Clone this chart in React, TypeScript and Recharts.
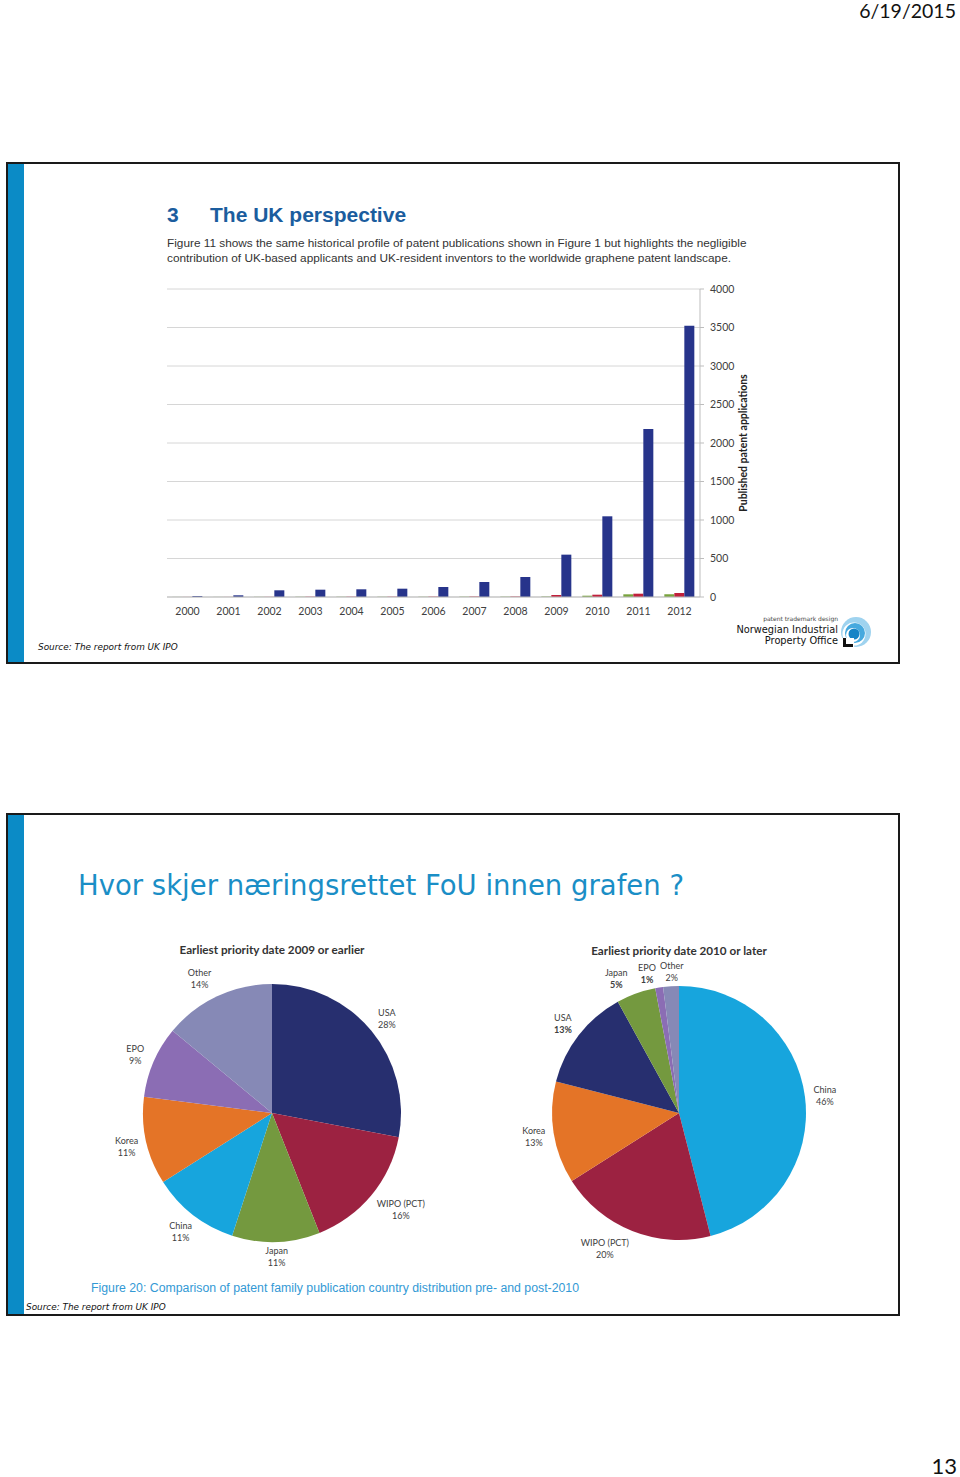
import React from 'react';
import {
  BarChart,
  Bar,
  XAxis,
  YAxis,
  CartesianGrid,
  Label,
  PieChart,
  Pie,
  Cell,
} from 'recharts';

// Figure 11: published graphene patent applications per year
const years = ['2000', '2001', '2002', '2003', '2004', '2005', '2006', '2007', '2008', '2009', '2010', '2011', '2012'];
const ukInventors = [1, 1, 2, 3, 3, 3, 3, 4, 4, 6, 17, 35, 35];
const ukApplicants = [1, 1, 2, 4, 4, 4, 5, 6, 6, 26, 30, 43, 52];
const worldwide = [12, 22, 87, 95, 100, 108, 130, 195, 260, 550, 1048, 2182, 3524];
const yTicks = [0, 500, 1000, 1500, 2000, 2500, 3000, 3500, 4000];

// Figure 20: share of patent families by publication country
const earlierNames = ['USA', 'WIPO (PCT)', 'Japan', 'China', 'Korea', 'EPO', 'Other'];
const earlierShares = [28, 16, 11, 11, 11, 9, 14];
const laterNames = ['China', 'WIPO (PCT)', 'Korea', 'USA', 'Japan', 'EPO', 'Other'];
const laterShares = [46, 20, 13, 13, 5, 1, 2];
const boldLater = ['USA', 'Japan', 'EPO'];

const countryColor: Record<string, string> = {
  USA: '#272f6f',
  'WIPO (PCT)': '#9c2241',
  Japan: '#74993f',
  China: '#17a5dd',
  Korea: '#e47427',
  EPO: '#8b6db4',
  Other: '#8689b6',
};

// small hand nudges so the slice labels sit where the slide has them
const earlierNudge: Record<string, [number, number]> = {
  'WIPO (PCT)': [14, 1],
  Japan: [0, -6],
  Other: [-9, 0],
};
const laterNudge: Record<string, [number, number]> = {
  'WIPO (PCT)': [-20, -2],
  Japan: [-13, 3],
  EPO: [-9, 5],
  Other: [2, 5],
};

const barData = years.map((year, i) => ({
  year,
  inventors: ukInventors[i],
  applicants: ukApplicants[i],
  total: worldwide[i],
}));

const earlierData = earlierNames.map((name, i) => ({ name, value: earlierShares[i] }));
const laterData = laterNames.map((name, i) => ({ name, value: laterShares[i] }));

const RADIAN = Math.PI / 180;
const calibri = 'Lato, "Open Sans", sans-serif';

function pieLabel(boldNames: string[], nudge: Record<string, [number, number]>) {
  return (props: any) => {
    const { cx, cy, midAngle, outerRadius, name, value } = props;
    const r = outerRadius + 20;
    const [nx, ny] = nudge[name] || [0, 0];
    const x = cx + r * Math.cos(-midAngle * RADIAN) + nx;
    const y = cy + r * Math.sin(-midAngle * RADIAN) + ny;
    const bold = boldNames.includes(name);
    return (
      <text x={x} y={y} textAnchor="middle" fontSize={9} fontFamily={calibri} fill="#404040">
        <tspan x={x} dy={-2}>{name}</tspan>
        <tspan x={x} dy={12} fontWeight={bold ? 700 : 400}>{value}%</tspan>
      </text>
    );
  };
}

function SlideFrame({ top, height }: { top: number; height: number }) {
  return (
    <>
      <div
        style={{
          position: 'absolute',
          left: 6,
          top,
          width: 894,
          height,
          border: '2px solid #1a1a1a',
          boxSizing: 'border-box',
          background: '#fff',
        }}
      />
      <div
        style={{
          position: 'absolute',
          left: 8,
          top: top + 2,
          width: 16,
          height: height - 4,
          background: '#0b8bc6',
        }}
      />
    </>
  );
}

function Logo() {
  return (
    <div style={{ position: 'absolute', left: 730, top: 614, width: 145, height: 34 }}>
      <div style={{ position: 'absolute', right: 37, top: 1, fontSize: 6, color: '#444', fontFamily: 'DejaVu Sans' }}>
        patent trademark design
      </div>
      <div
        style={{
          position: 'absolute',
          right: 37,
          top: 10,
          fontSize: 9.8,
          lineHeight: '11px',
          textAlign: 'right',
          color: '#111',
          fontFamily: 'DejaVu Sans',
          whiteSpace: 'nowrap',
        }}
      >
        Norwegian Industrial
        <br />
        Property Office
      </div>
      <svg style={{ position: 'absolute', left: 108, top: 2 }} width={34} height={32}>
        <circle cx={18} cy={16} r={15} fill="#9fd3ef" />
        <circle cx={16} cy={18} r={11.5} fill="#fff" />
        <circle cx={17} cy={17} r={10} fill="#46a9de" />
        <circle cx={15} cy={19} r={7} fill="#fff" />
        <circle cx={16} cy={18} r={5.5} fill="#1584c6" />
        <rect x={4} y={22} width={12} height={10} fill="#fff" />
        <path d="M5 22 L5 31 L15 31 L15 28 L8 28 L8 22 Z" fill="#111" />
      </svg>
    </div>
  );
}

export default function App() {
  return (
    <div style={{ position: 'absolute', left: 0, top: 0, width: 960, height: 1477, background: '#fff' }}>
      <div
        style={{
          position: 'absolute',
          right: 4,
          top: -1,
          fontSize: 19.5,
          fontFamily: calibri,
          color: '#111',
          whiteSpace: 'nowrap',
        }}
      >
        6/19/2015
      </div>

      {/* slide 1 */}
      <SlideFrame top={162} height={502} />
      <div
        style={{
          position: 'absolute',
          left: 167,
          top: 203,
          fontFamily: '"Liberation Sans", Arial, sans-serif',
          fontWeight: 700,
          fontSize: 21,
          color: '#1b5d9e',
          whiteSpace: 'nowrap',
        }}
      >
        <span>3</span>
        <span style={{ position: 'absolute', left: 43 }}>The UK perspective</span>
      </div>
      <div
        style={{
          position: 'absolute',
          left: 167,
          top: 236,
          fontFamily: '"Liberation Sans", Arial, sans-serif',
          fontSize: 11.8,
          lineHeight: '15px',
          color: '#333',
          whiteSpace: 'nowrap',
        }}
      >
        Figure 11 shows the same historical profile of patent publications shown in Figure 1 but highlights the negligible
        <br />
        contribution of UK-based applicants and UK-resident inventors to the worldwide graphene patent landscape.
      </div>

      <div style={{ position: 'absolute', left: 160, top: 280 }}>
        <BarChart
          width={600}
          height={345}
          data={barData}
          margin={{ top: 9, right: 8, left: 7, bottom: 0 }}
          barCategoryGap="13%"
          barGap={0}
        >
          <CartesianGrid vertical={false} stroke="#d6d6d6" />
          <XAxis
            dataKey="year"
            height={28}
            tickLine={false}
            tickMargin={5}
            axisLine={{ stroke: '#bdbdbd' }}
            tick={{ fontSize: 10.5, fill: '#404040', fontFamily: calibri }}
            interval={0}
          />
          <YAxis
            orientation="right"
            width={52}
            domain={[0, 4000]}
            ticks={yTicks}
            axisLine={{ stroke: '#bdbdbd' }}
            tickLine={{ stroke: '#bdbdbd' }}
            tickSize={4}
            tickMargin={6}
            tick={{ fontSize: 10.5, fill: '#404040', fontFamily: calibri }}
          >
            <Label
              content={(props: any) => {
                const vb = props.viewBox;
                const x = vb.x + vb.width - 5;
                const y = vb.y + vb.height / 2;
                return (
                  <text
                    x={x}
                    y={y}
                    transform={`rotate(-90 ${x} ${y})`}
                    textAnchor="middle"
                    fontSize={10.5}
                    fontWeight={700}
                    fontFamily={calibri}
                    fill="#222"
                  >
                    Published patent applications
                  </text>
                );
              }}
            />
          </YAxis>
          <Bar dataKey="inventors" fill="#78a33d" isAnimationActive={false} />
          <Bar dataKey="applicants" fill="#c0203b" isAnimationActive={false} />
          <Bar dataKey="total" fill="#27348b" isAnimationActive={false} />
        </BarChart>
      </div>

      <div
        style={{
          position: 'absolute',
          left: 38,
          top: 642,
          fontFamily: '"DejaVu Sans", Verdana, sans-serif',
          fontStyle: 'italic',
          fontSize: 8.9,
          color: '#111',
          whiteSpace: 'nowrap',
        }}
      >
        Source: The report from UK IPO
      </div>
      <Logo />

      {/* slide 2 */}
      <SlideFrame top={813} height={503} />
      <div
        style={{
          position: 'absolute',
          left: 78,
          top: 869,
          fontFamily: '"DejaVu Sans", Verdana, sans-serif',
          fontSize: 27.5,
          color: '#1a8ec6',
          whiteSpace: 'nowrap',
        }}
      >
        Hvor skjer næringsrettet FoU innen grafen ?
      </div>

      <div
        style={{
          position: 'absolute',
          left: 162,
          width: 220,
          top: 942,
          textAlign: 'center',
          fontFamily: calibri,
          fontWeight: 700,
          fontSize: 11.7,
          color: '#333',
          whiteSpace: 'nowrap',
        }}
      >
        Earliest priority date 2009 or earlier
      </div>
      <div
        style={{
          position: 'absolute',
          left: 569,
          width: 220,
          top: 943,
          textAlign: 'center',
          fontFamily: calibri,
          fontWeight: 700,
          fontSize: 11.7,
          color: '#333',
          whiteSpace: 'nowrap',
        }}
      >
        Earliest priority date 2010 or later
      </div>

      <div style={{ position: 'absolute', left: 100, top: 930 }}>
        <PieChart width={760} height={350} margin={{ top: 0, right: 0, bottom: 0, left: 0 }}>
          <Pie
            data={earlierData}
            dataKey="value"
            nameKey="name"
            cx={172}
            cy={183}
            outerRadius={129}
            startAngle={90}
            endAngle={-270}
            stroke="none"
            labelLine={false}
            label={pieLabel([], earlierNudge)}
            isAnimationActive={false}
          >
            {earlierData.map((d) => (
              <Cell key={d.name} fill={countryColor[d.name]} />
            ))}
          </Pie>
          <Pie
            data={laterData}
            dataKey="value"
            nameKey="name"
            cx={579}
            cy={183}
            outerRadius={127}
            startAngle={90}
            endAngle={-270}
            stroke="none"
            labelLine={false}
            label={pieLabel(boldLater, laterNudge)}
            isAnimationActive={false}
          >
            {laterData.map((d) => (
              <Cell key={d.name} fill={countryColor[d.name]} />
            ))}
          </Pie>
        </PieChart>
      </div>

      <div
        style={{
          position: 'absolute',
          left: 91,
          top: 1281,
          fontFamily: '"Liberation Sans", Arial, sans-serif',
          fontSize: 12.3,
          color: '#3399d5',
          whiteSpace: 'nowrap',
        }}
      >
        Figure 20: Comparison of patent family publication country distribution pre- and post-2010
      </div>
      <div
        style={{
          position: 'absolute',
          left: 26,
          top: 1302,
          fontFamily: '"DejaVu Sans", Verdana, sans-serif',
          fontStyle: 'italic',
          fontSize: 8.9,
          color: '#111',
          whiteSpace: 'nowrap',
        }}
      >
        Source: The report from UK IPO
      </div>

      <div
        style={{
          position: 'absolute',
          right: 3,
          top: 1452,
          fontSize: 22,
          fontFamily: calibri,
          color: '#111',
        }}
      >
        13
      </div>
    </div>
  );
}
